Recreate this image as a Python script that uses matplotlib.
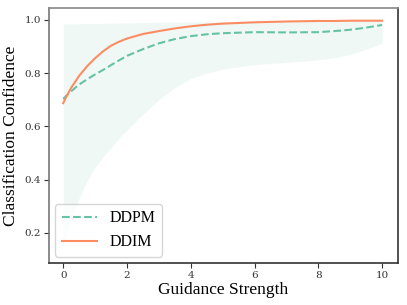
import numpy as np
import matplotlib.pyplot as plt

# values
guidance = [0, 0.1, 0.25, 0.5, 0.75, 1, 1.25, 1.5, 1.75, 2, 2.5, 3, 3.5, 4, 4.5, 5,
            6, 7, 8, 8.5, 9, 9.5, 10]
ddpm = [0.703, 0.715, 0.732, 0.757, 0.777, 0.795, 0.812, 0.830, 0.848, 0.865, 0.890,
        0.912, 0.928, 0.939, 0.946, 0.950, 0.954, 0.953, 0.954, 0.958, 0.963, 0.971, 0.981]
ddim = [0.687, 0.712, 0.745, 0.790, 0.826, 0.856, 0.882, 0.903, 0.918, 0.930, 0.947,
        0.958, 0.968, 0.976, 0.982, 0.986, 0.991, 0.994, 0.996, 0.996, 0.997, 0.997, 0.997]
band_high = [0.985, 0.985, 0.985, 0.986, 0.986, 0.987, 0.987, 0.988, 0.988, 0.989, 0.990,
             0.991, 0.992, 0.993, 0.993, 0.994, 0.995, 0.996, 0.997, 0.997, 0.997, 0.997, 0.997]
band_low = [0.15, 0.19, 0.25, 0.33, 0.395, 0.445, 0.485, 0.52, 0.555, 0.585, 0.645,
            0.70, 0.745, 0.78, 0.80, 0.815, 0.832, 0.840, 0.850, 0.857, 0.870, 0.890, 0.912]

green = '#66c2a5'
orange = '#fc8d62'

fig = plt.figure(figsize=(4.07, 3.05), dpi=100)
ax = fig.add_axes([0.120, 0.138, 0.858, 0.836])

ax.fill_between(guidance, band_low, band_high, color=green, alpha=0.1, linewidth=0)
ax.plot(guidance, ddpm, color=green, linestyle='--', linewidth=1.5, label='DDPM')
ax.plot(guidance, ddim, color=orange, linestyle='-', linewidth=1.5, label='DDIM')

ax.set_xlim(-0.45, 10.5)
ax.set_ylim(0.087, 1.045)
ax.set_xticks([0, 2, 4, 6, 8, 10])
ax.set_yticks([0.2, 0.4, 0.6, 0.8, 1.0])

for lab in ax.get_xticklabels() + ax.get_yticklabels():
    lab.set_family('DejaVu Serif')
    lab.set_fontsize(7.5)
    lab.set_color('#333333')
ax.tick_params(length=3.5, width=0.8, color='#333333', pad=2)

ax.spines['top'].set_color('#888888')
ax.spines['left'].set_color('#777777')
ax.spines['right'].set_color('#333333')
ax.spines['bottom'].set_color('#333333')
for s in ax.spines.values():
    s.set_linewidth(1.2)

ax.set_xlabel('Guidance Strength', family='Liberation Serif', fontsize=12.5, labelpad=2)
ax.set_ylabel('Classification Confidence', family='Liberation Serif', fontsize=12.5, labelpad=4)

ax.legend(loc='lower left', prop={'family': 'Liberation Serif', 'size': 11.5},
          handlelength=2.2, borderaxespad=0.4, framealpha=0.8)

fig.savefig('out.png', dpi=100)
